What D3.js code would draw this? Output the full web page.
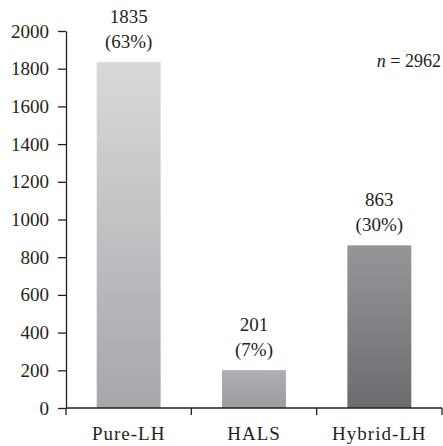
<!DOCTYPE html>
<html>
<head>
<meta charset="utf-8">
<script src="https://cdn.jsdelivr.net/npm/d3@7"></script>
<style>
  body { margin: 0; background: #fff; }
  text { font-family: "Liberation Serif", "Times New Roman", serif; fill: #231f20; }
</style>
</head>
<body>
<div id="chart"></div>
<script>
var categories = ["Pure-LH", "HALS", "Hybrid-LH"];
var counts = [1835, 201, 863];
var percents = ["(63%)", "(7%)", "(30%)"];
var yTicks = [0, 200, 400, 600, 800, 1000, 1200, 1400, 1600, 1800, 2000];
var totalLabel = "2962";

var barColors = [
  ["#d9d9db", "#a6a7ab"],
  ["#aeafb3", "#9c9da1"],
  ["#959699", "#6b6c70"]
];

function drawChart() {
  "use strict";
  var width = 443, height = 446;
  var plotLeft = 66, plotRight = 442, plotTop = 31, plotBottom = 408;

  var svg = d3.select("#chart").append("svg")
    .attr("width", width)
    .attr("height", height);

  var x = d3.scaleBand()
    .domain(categories)
    .range([plotLeft, plotRight])
    .paddingInner(0.49)
    .paddingOuter(0.245);

  var y = d3.scaleLinear()
    .domain([0, 2000])
    .range([plotBottom, plotTop]);

  var defs = svg.append("defs");
  categories.forEach(function(c, i) {
    var g = defs.append("linearGradient")
      .attr("id", "grad" + i)
      .attr("x1", 0).attr("y1", 0).attr("x2", 0).attr("y2", 1);
    g.append("stop").attr("offset", "0%").attr("stop-color", barColors[i][0]);
    g.append("stop").attr("offset", "100%").attr("stop-color", barColors[i][1]);
  });

  // bars
  svg.selectAll("rect.bar")
    .data(counts)
    .enter().append("rect")
    .attr("class", "bar")
    .attr("x", function(d, i) { return x(categories[i]); })
    .attr("width", x.bandwidth())
    .attr("y", function(d) { return y(d); })
    .attr("height", function(d) { return y(0) - y(d); })
    .style("fill", function(d, i) { return "url(#grad" + i + ")"; });

  // value labels
  svg.selectAll("text.count")
    .data(counts)
    .enter().append("text")
    .attr("class", "count")
    .attr("x", function(d, i) { return x(categories[i]) + x.bandwidth() / 2; })
    .attr("y", function(d) { return y(d) - 39; })
    .attr("text-anchor", "middle")
    .style("font-size", "19px")
    .text(function(d) { return d; });

  svg.selectAll("text.pct")
    .data(counts)
    .enter().append("text")
    .attr("class", "pct")
    .attr("x", function(d, i) { return x(categories[i]) + x.bandwidth() / 2; })
    .attr("y", function(d) { return y(d) - 14; })
    .attr("text-anchor", "middle")
    .style("font-size", "19px")
    .text(function(d, i) { return percents[i]; });

  // y axis
  var yAxis = svg.append("g")
    .attr("transform", "translate(" + plotLeft + ",0)")
    .call(d3.axisLeft(y).tickValues(yTicks).tickFormat(d3.format("d"))
      .tickSize(8).tickSizeOuter(0).tickPadding(9));
  yAxis.select(".domain").attr("stroke", "#231f20").attr("stroke-width", 1.3);
  yAxis.selectAll(".tick line").attr("stroke", "#231f20").attr("stroke-width", 1.3);
  yAxis.selectAll(".tick text")
    .style("font-family", "'Liberation Serif', serif")
    .style("font-size", "19px")
    .attr("fill", "#231f20");

  // x axis: ticks at the band boundaries
  var bounds = [plotLeft].concat(categories.map(function(c) {
    return x(c) + x.bandwidth() + x.step() * x.paddingInner() / 2;
  }));
  svg.append("line")
    .attr("x1", plotLeft).attr("x2", plotRight)
    .attr("y1", plotBottom).attr("y2", plotBottom)
    .attr("stroke", "#231f20").attr("stroke-width", 1.3);
  svg.selectAll("line.xtick")
    .data(bounds)
    .enter().append("line")
    .attr("class", "xtick")
    .attr("x1", function(d) { return d; }).attr("x2", function(d) { return d; })
    .attr("y1", plotBottom).attr("y2", plotBottom + 7)
    .attr("stroke", "#231f20").attr("stroke-width", 1.3);

  svg.selectAll("text.cat")
    .data(categories)
    .enter().append("text")
    .attr("class", "cat")
    .attr("x", function(d) { return x(d) + x.bandwidth() / 2; })
    .attr("y", 440)
    .attr("text-anchor", "middle")
    .style("font-size", "19px")
    .style("letter-spacing", "1px")
    .text(function(d) { return d; });

  // n label
  var nText = svg.append("text")
    .attr("x", 441)
    .attr("y", 67)
    .attr("text-anchor", "end")
    .style("font-size", "18px");
  nText.append("tspan").style("font-style", "italic").text("n");
  nText.append("tspan").text(" = " + totalLabel);
}

drawChart();
</script>
</body>
</html>
